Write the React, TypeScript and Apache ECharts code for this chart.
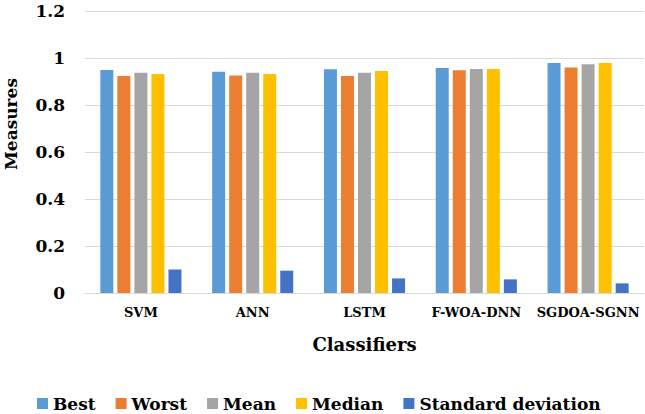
import React, { useEffect, useRef } from "react";
import * as echarts from "echarts";

const categories = ["SVM", "ANN", "LSTM", "F-WOA-DNN", "SGDOA-SGNN"];
const seriesNames = ["Best", "Worst", "Mean", "Median", "Standard deviation"];
const best = [0.949, 0.942, 0.952, 0.957, 0.979];
const worst = [0.923, 0.926, 0.923, 0.948, 0.96];
const mean = [0.937, 0.937, 0.937, 0.953, 0.973];
const median = [0.932, 0.932, 0.945, 0.953, 0.979];
const stdDev = [0.1, 0.095, 0.062, 0.058, 0.041];
const yTicks = { min: 0, max: 1.2, interval: 0.2 };

const colors = ["#5B9BD5", "#ED7D31", "#A5A5A5", "#FFC000", "#4472C4"];
const FONT = "DejaVu Serif";

export default function App() {
  const ref = useRef<HTMLDivElement>(null);
  useEffect(() => {
    if (!ref.current) return;
    const chart = echarts.init(ref.current, undefined, { renderer: "svg" });
    const values = [best, worst, mean, median, stdDev];
    chart.setOption({
      animation: false,
      color: colors,
      textStyle: { fontFamily: FONT },
      grid: { left: 85, right: 1, top: 11, bottom: 121, containLabel: false },
      legend: {
        left: 37,
        top: 395,
        padding: 0,
        icon: "rect",
        itemWidth: 11,
        itemHeight: 11,
        itemGap: 20,
        textStyle: { fontFamily: FONT, fontWeight: "bold", fontSize: 17, color: "#000" },
        data: seriesNames,
      },
      xAxis: {
        type: "category",
        data: categories,
        name: "Classifiers",
        nameLocation: "middle",
        nameGap: 42,
        nameTextStyle: { fontFamily: FONT, fontWeight: "bold", fontSize: 18, color: "#000" },
        axisTick: { show: false },
        axisLine: { lineStyle: { color: "#d9d9d9", width: 1 } },
        axisLabel: { interval: 0, margin: 13, fontFamily: FONT, fontWeight: "bold", fontSize: 13, color: "#000" },
      },
      yAxis: {
        type: "value",
        min: yTicks.min,
        max: yTicks.max,
        interval: yTicks.interval,
        axisLine: { show: false },
        axisTick: { show: false },
        splitLine: { lineStyle: { color: "#d9d9d9", width: 1 } },
        axisLabel: { margin: 20, fontFamily: FONT, fontWeight: "bold", fontSize: 17, color: "#000" },
      },
      graphic: [
        {
          type: "text",
          x: 11,
          y: 124,
          rotation: Math.PI / 2,
          style: {
            text: "Measures",
            fontFamily: FONT,
            fontWeight: "bold",
            fontSize: 17,
            fill: "#000",
            align: "center",
            verticalAlign: "middle",
          },
        },
      ],
      series: seriesNames.map((name, i) => ({
        name,
        type: "bar",
        data: values[i],
        barWidth: 13,
        barGap: "31%",
      })),
    });
    return () => chart.dispose();
  }, []);
  return <div ref={ref} style={{ width: 645, height: 414, position: "absolute", left: 0, top: 0 }} />;
}
